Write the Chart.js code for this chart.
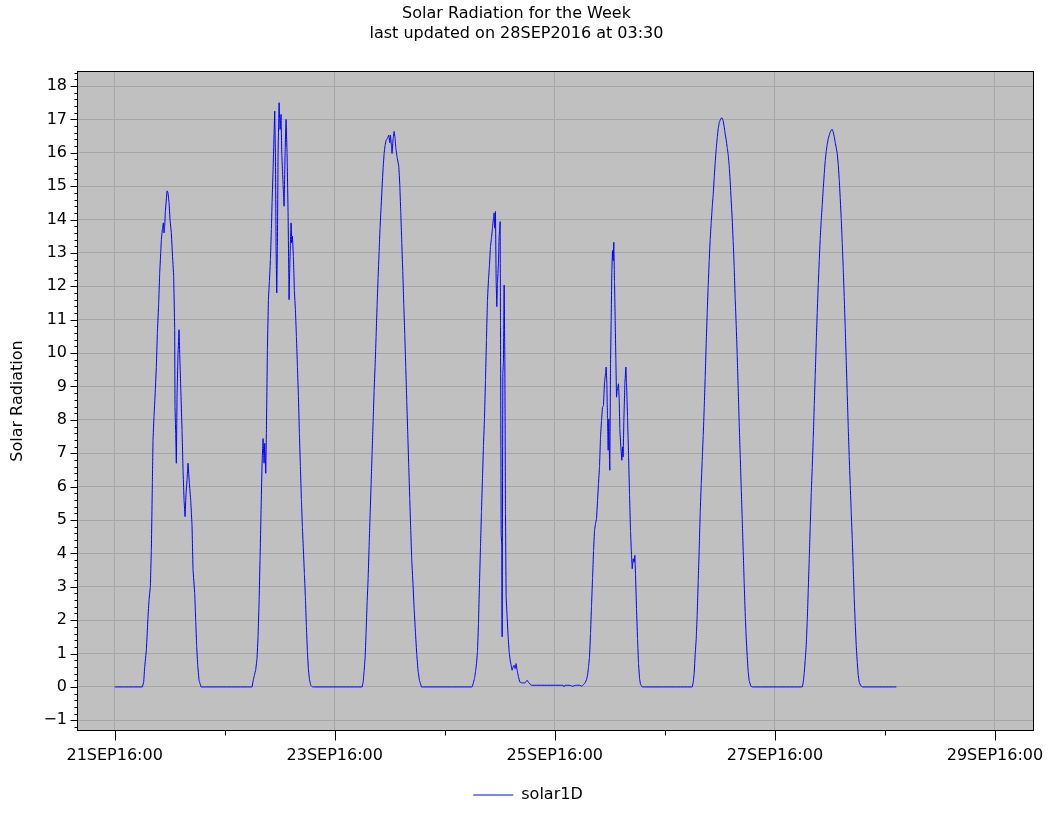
<!DOCTYPE html>
<html>
<head>
<meta charset="utf-8">
<title>Solar Radiation for the Week</title>
<script src="https://cdn.jsdelivr.net/npm/chart.js@4/dist/chart.umd.min.js"></script>
<style>
  html, body { margin: 0; padding: 0; background: #fff; }
  #wrap { width: 1056px; height: 816px; }
</style>
</head>
<body>
<div id="wrap"><canvas id="solarChart" width="1056" height="816"></canvas></div>
<script>
// x = hours after 21SEP 16:00, y = solar radiation
const day1 = [[0,0],[6.04,0],[6.33,0.15],[6.55,0.6],[6.91,1.1],[7.27,2.1],[7.49,2.6],[7.78,3.0],[8.0,4.1],[8.22,6.1],
  [8.36,7.4],[8.58,8.1],[8.87,8.9],[9.09,9.6],[9.31,10.6],[9.6,11.5],[9.82,12.4],[10.04,13.0],[10.18,13.4],[10.4,13.7],
  [10.62,13.9],[10.76,13.6],[10.91,13.8],[11.06,14.25],[11.42,14.86],[11.64,14.8],[11.86,14.5],[12.07,14.0],[12.36,13.6],[12.58,13.0],
  [12.87,12.3],[13.09,10.7],[13.16,8.4],[13.31,7.6],[13.45,6.7],[13.6,8.7],[13.82,10.0],[14.04,10.7],[14.18,10.0],[14.4,9.0],
  [14.69,7.7],[14.91,6.5],[15.13,5.6],[15.35,5.1],[15.56,5.8],[15.78,6.2],[16.0,6.7],[16.29,6.1],[16.58,5.6],[16.87,4.85],
  [17.09,3.5],[17.46,2.8],[17.67,2.0],[17.89,1.2],[18.11,0.65],[18.4,0.2],[18.84,0]];

const day2 = [[29.97,0],[30.18,0.17],[30.47,0.35],[30.77,0.52],[31.06,0.87],[31.27,1.5],[31.49,2.5],[31.71,3.84],[31.93,5.3],[32.15,6.7],
  [32.37,7.44],[32.58,6.7],[32.73,7.3],[32.95,6.4],[33.09,7.6],[33.31,10.1],[33.53,11.6],[33.75,12.15],[33.97,12.8],[34.18,13.7],
  [34.33,14.5],[34.55,15.5],[34.77,16.6],[34.91,17.25],[35.06,16.0],[35.2,13.2],[35.35,11.8],[35.49,13.2],[35.64,16.0],[35.86,17.5],
  [36.08,16.7],[36.29,17.15],[36.44,16.0],[36.73,15.05],[36.95,14.4],[37.17,16.0],[37.38,17.0],[37.6,16.0],[37.82,14.2],[38.04,11.6],
  [38.18,12.5],[38.33,13.3],[38.48,13.9],[38.62,13.3],[38.77,13.5],[38.98,12.9],[39.2,11.86],[39.42,11.3],[39.64,10.5],[39.86,9.6],
  [40.08,8.7],[40.29,7.6],[40.51,6.6],[40.73,5.6],[40.95,4.77],[41.17,4.07],[41.38,3.4],[41.6,2.67],[41.82,1.8],[42.04,1.05],
  [42.26,0.52],[42.48,0.23],[42.77,0.05],[43.13,0]];

const day3 = [[53.97,0],[54.19,0.14],[54.41,0.48],[54.62,0.86],[54.84,1.64],[55.06,2.52],[55.28,3.24],[55.5,4.24],[55.71,5.13],[55.93,6.07],
  [56.15,7.0],[56.37,7.95],[56.59,8.89],[56.8,9.6],[57.02,10.5],[57.24,11.44],[57.46,12.27],[57.68,13.05],[57.89,13.77],[58.11,14.37],
  [58.33,14.98],[58.55,15.54],[58.77,15.98],[58.98,16.22],[59.2,16.37],[59.5,16.44],[59.79,16.53],[60.0,16.3],[60.15,16.53],[60.37,16.2],
  [60.5,15.98],[60.73,16.42],[60.95,16.64],[61.17,16.42],[61.31,16.15],[61.6,15.87],[61.97,15.59],[62.19,15.04],[62.4,14.2],[62.62,13.32],
  [62.84,12.44],[63.06,11.44],[63.28,10.55],[63.49,9.56],[63.71,8.56],[63.93,7.56],[64.15,6.57],[64.36,5.63],[64.58,4.68],[64.8,3.8],
  [65.09,3.02],[65.31,2.36],[65.6,1.64],[65.89,0.97],[66.18,0.48],[66.47,0.2],[66.91,0]];

const day4 = [[77.97,0],[78.19,0.1],[78.48,0.25],[78.7,0.45],[78.92,0.7],[79.13,1.05],[79.35,1.9],[79.57,3.1],[79.79,4.2],[80.0,5.24],
  [80.22,6.24],[80.44,7.24],[80.66,8.04],[80.88,9.19],[81.09,10.39],[81.31,11.59],[81.53,12.19],[81.75,12.64],[81.97,13.19],[82.18,13.44],
  [82.4,13.74],[82.62,14.04],[82.76,14.2],[82.91,13.74],[83.06,14.24],[83.2,12.19],[83.35,11.39],[83.49,12.09],[83.71,12.69],[83.86,13.49],
  [84.08,13.94],[84.15,10.84],[84.3,4.6],[84.44,4.2],[84.51,1.5],[84.66,9.39],[84.8,9.74],[84.95,12.04],[85.1,9.8],[85.24,5.2],
  [85.38,2.7],[85.6,2.1],[85.82,1.5],[86.04,1.05],[86.26,0.8],[86.47,0.65],[86.69,0.5],[86.91,0.6],[87.13,0.65],[87.34,0.55],
  [87.56,0.7],[87.78,0.5],[88.07,0.3],[88.36,0.15],[88.8,0.12],[89.52,0.12],[89.96,0.2],[90.33,0.12],[90.91,0.05],[97.8,0.05],
  [98.0,0],[98.2,0.05]];

const day5 = [[99.28,0.05],[99.86,0.02],[100.58,0.05],[101.46,0.05],[101.9,0.02],[102.33,0.08],[102.63,0.13],[102.92,0.22],[103.14,0.35],[103.36,0.6],
  [103.57,0.9],[103.79,1.6],[104.01,2.45],[104.23,3.24],[104.45,4.09],[104.66,4.69],[104.88,4.89],[105.1,5.04],[105.32,5.59],[105.53,6.09],
  [105.75,6.59],[105.97,7.49],[106.19,7.98],[106.4,8.38],[106.62,8.43],[106.84,9.13],[107.06,9.38],[107.2,9.58],[107.35,9.08],[107.49,8.03],
  [107.64,7.09],[107.78,8.03],[107.93,6.79],[108.0,6.49],[108.15,9.68],[108.29,10.98],[108.44,12.48],[108.58,13.07],[108.73,12.77],[108.87,13.32],
  [109.02,12.13],[109.17,10.98],[109.31,9.83],[109.46,8.68],[109.6,8.88],[109.75,8.98],[109.89,9.08],[110.04,8.63],[110.18,7.73],[110.4,7.19],
  [110.62,6.79],[110.77,7.19],[110.91,6.89],[111.06,7.98],[111.28,9.08],[111.5,9.58],[111.64,9.13],[111.86,8.08],[112.08,6.99],[112.3,5.74],
  [112.51,4.69],[112.73,3.94],[112.88,3.54],[113.1,3.84],[113.31,3.74],[113.46,3.94],[113.6,3.39],[113.82,2.35],[114.04,1.45],[114.26,0.7],
  [114.48,0.25],[114.69,0.08],[115.06,0]];

const day6 = [[125.97,0],[126.19,0.14],[126.41,0.42],[126.62,0.98],[126.84,1.43],[127.06,2.17],[127.28,3.18],[127.5,4.14],[127.71,5.21],[127.93,6.06],
  [128.15,6.79],[128.37,7.53],[128.59,8.37],[128.8,9.28],[129.02,10.29],[129.24,11.2],[129.46,12.04],[129.68,12.78],[129.89,13.4],[130.11,13.9],
  [130.33,14.36],[130.55,14.75],[130.77,15.26],[130.98,15.71],[131.2,16.11],[131.42,16.44],[131.64,16.73],[131.86,16.9],[132.07,16.98],[132.29,17.04],
  [132.51,17.04],[132.73,16.95],[132.95,16.78],[133.16,16.56],[133.38,16.39],[133.6,16.16],[133.82,15.94],[134.04,15.6],[134.25,15.15],[134.47,14.58],
  [134.69,14.02],[134.91,13.34],[135.13,12.55],[135.34,11.65],[135.56,10.86],[135.78,9.95],[136.0,8.94],[136.21,7.92],[136.43,6.96],[136.65,6.0],
  [136.87,5.05],[137.09,4.09],[137.3,3.13],[137.52,2.22],[137.74,1.49],[137.96,0.93],[138.17,0.47],[138.39,0.19],[138.76,0.02],[139.12,0]];

const day7 = [[149.97,0],[150.19,0.14],[150.41,0.42],[150.62,0.81],[150.84,1.25],[151.06,1.97],[151.28,2.91],[151.5,3.85],[151.71,4.8],[151.93,5.79],
  [152.15,6.57],[152.37,7.45],[152.59,8.45],[152.8,9.34],[153.02,10.33],[153.24,11.22],[153.46,12.05],[153.68,12.77],[153.89,13.43],[154.11,13.99],
  [154.33,14.43],[154.55,14.93],[154.77,15.37],[154.98,15.76],[155.2,16.04],[155.42,16.26],[155.64,16.42],[155.86,16.53],[156.07,16.62],[156.29,16.68],
  [156.51,16.7],[156.73,16.62],[156.95,16.48],[157.16,16.31],[157.38,16.15],[157.6,15.98],[157.82,15.65],[158.04,15.2],[158.25,14.65],[158.47,14.04],
  [158.69,13.32],[158.91,12.55],[159.13,11.66],[159.34,10.78],[159.56,9.78],[159.78,8.78],[160.0,7.79],[160.21,6.9],[160.43,6.07],[160.65,5.24],
  [160.87,4.46],[161.09,3.58],[161.3,2.69],[161.52,1.92],[161.74,1.25],[161.96,0.75],[162.17,0.37],[162.39,0.14],[162.76,0.03],[163.12,0],
  [170.5,0]];

const xTickHours = [0, 24, 48, 72, 96, 120, 144, 168, 192];
const xTickLabels = ['21SEP16:00', '', '23SEP16:00', '', '25SEP16:00', '', '27SEP16:00', '', '29SEP16:00'];
const yTickValues = [-1, 0, 1, 2, 3, 4, 5, 6, 7, 8, 9, 10, 11, 12, 13, 14, 15, 16, 17, 18];

const solar1D = [day1, day2, day3, day4, day5, day6, day7].flat().map(p => ({ x: p[0], y: p[1] }));

Chart.defaults.font.family = '"DejaVu Sans", sans-serif';
Chart.defaults.font.size = 16;
Chart.defaults.color = '#000';

/* grey plot background, black frame, major/minor tick marks */
const plotDecor = {
  id: 'plotDecor',
  afterLayout(chart) {
    // centre the legend on the whole page, not on the padded area
    const lg = chart.legend;
    if (lg) { lg.left = 0; lg.right = chart.width; lg.width = chart.width; }
  },
  beforeDraw(chart) {
    const { ctx, chartArea: a } = chart;
    ctx.save();
    ctx.fillStyle = '#c0c0c0';
    ctx.fillRect(a.left, a.top, a.right - a.left, a.bottom - a.top);
    ctx.restore();
  },
  afterDraw(chart) {
    const { ctx, chartArea: a, scales: { x, y } } = chart;
    const L = Math.round(a.left) - 0.5, R = Math.round(a.right) + 0.5;
    const T = Math.round(a.top) - 0.5, B = Math.round(a.bottom) + 0.5;
    ctx.save();
    ctx.strokeStyle = '#000';
    ctx.lineWidth = 1;
    ctx.strokeRect(L, T, R - L, B - T);
    ctx.beginPath();
    xTickHours.forEach((h, i) => {
      const px = Math.round(x.getPixelForValue(h)) + 0.5;
      ctx.moveTo(px, B);
      ctx.lineTo(px, B + (xTickLabels[i] ? 10 : 5));
    });
    for (let k = Math.ceil(y.min * 5); k <= Math.floor(y.max * 5); k++) {
      const py = Math.round(y.getPixelForValue(k / 5)) + 0.5;
      ctx.moveTo(L, py);
      ctx.lineTo(L - (k % 5 === 0 ? 7 : 3), py);
    }
    ctx.stroke();
    ctx.restore();
  }
};

new Chart(document.getElementById('solarChart'), {
  type: 'line',
  data: {
    datasets: [{
      label: 'solar1D',
      data: solar1D,
      borderColor: '#0000ff',
      backgroundColor: '#0000ff',
      borderWidth: 1,
      pointRadius: 0,
      tension: 0.0001,
      fill: false
    }]
  },
  options: {
    responsive: false,
    animation: false,
    devicePixelRatio: 1,
    layout: { padding: { left: 0, right: 23, top: 0, bottom: 3 } },
    plugins: {
      title: {
        display: true,
        text: ['Solar Radiation for the Week', 'last updated on 28SEP2016 at 03:30'],
        font: { size: 16, weight: 'normal', lineHeight: 1.25 },
        color: '#000',
        padding: { top: 4, bottom: 28 }
      },
      legend: {
        position: 'bottom',
        labels: {
          usePointStyle: true,
          pointStyle: 'line',
          pointStyleWidth: 40,
          font: { size: 16 },
          color: '#000',
          padding: 10
        }
      },
      tooltip: { enabled: false }
    },
    scales: {
      x: {
        type: 'linear',
        min: -8,
        max: 200.3,
        afterBuildTicks: s => { s.ticks = xTickHours.map(v => ({ value: v })); },
        afterFit: s => { s.height = 47; s.paddingLeft = 0; s.paddingRight = 0; },
        ticks: {
          autoSkip: false,
          maxRotation: 0,
          padding: 16,
          color: '#000',
          callback: v => xTickLabels[xTickHours.indexOf(v)] || ''
        },
        grid: {
          drawTicks: false,
          color: c => (c.tick && c.tick.value % 48 === 0) ? '#a6a6a6' : 'rgba(0,0,0,0)'
        },
        border: { display: false }
      },
      y: {
        min: -1.29,
        max: 18.42,
        afterBuildTicks: s => { s.ticks = yTickValues.map(v => ({ value: v })); },
        afterFit: s => { s.width = 78; },
        ticks: {
          padding: 11,
          color: '#000',
          callback: v => v < 0 ? '\u2212' + Math.abs(v) : String(v)
        },
        grid: { drawTicks: false, color: '#a6a6a6' },
        border: { display: false },
        title: {
          display: true,
          text: 'Solar Radiation',
          color: '#000',
          font: { size: 16 },
          padding: { top: 8, bottom: 0 }
        }
      }
    }
  },
  plugins: [plotDecor]
});
</script>
</body>
</html>
